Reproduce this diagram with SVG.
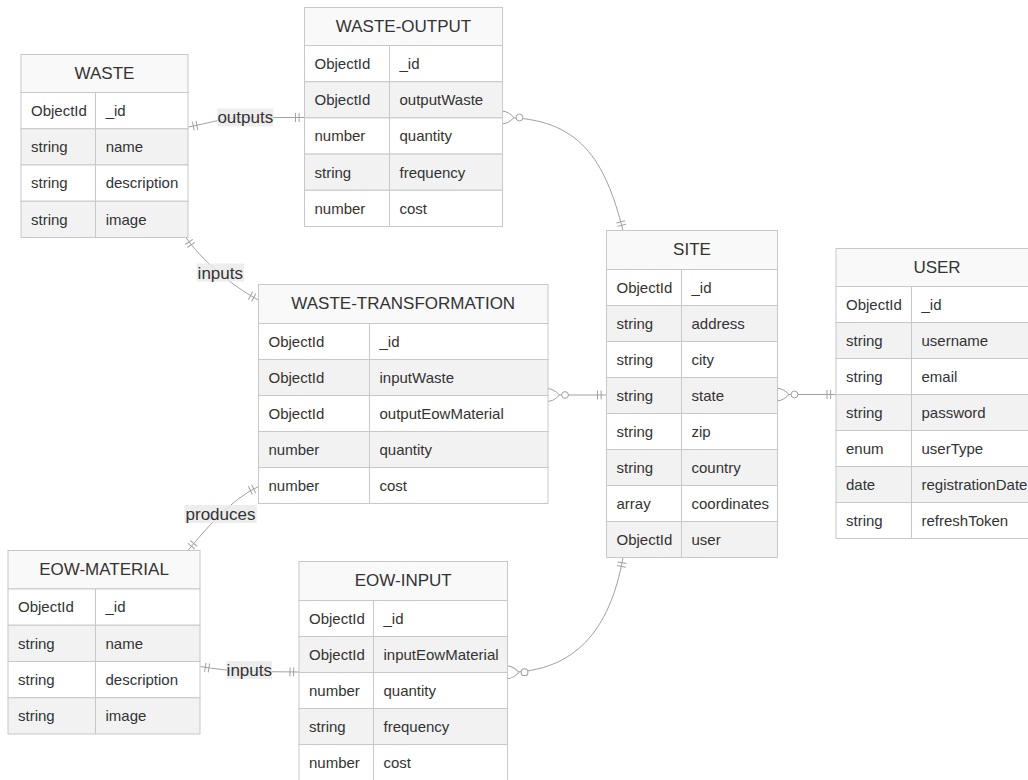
<svg xmlns="http://www.w3.org/2000/svg" width="1028" height="780" viewBox="0 0 1028 780">
<style>
.hdr{fill:#f9f9f9;stroke:#c8c8c8;stroke-width:1}
.odd{fill:#ffffff;stroke:#c8c8c8;stroke-width:1}
.even{fill:#f2f2f2;stroke:#c8c8c8;stroke-width:1}
.div{stroke:#c8c8c8;stroke-width:1}
text{font-family:"Liberation Sans",Arial,Helvetica,sans-serif;fill:#333}
.t{font-size:15px}
.h{font-size:17px;text-anchor:middle}
.lt{font-size:17px;text-anchor:middle}
.edge{fill:none;stroke:#a0a0a0;stroke-width:1}
.lb{fill:#e8e8e8;fill-opacity:0.8}
.mk{stroke:#a0a0a0;stroke-width:1}
</style>
<defs>
<marker id="one" markerUnits="userSpaceOnUse" orient="auto-start-reverse" viewBox="-14 -8 16 16" refX="0" refY="0" markerWidth="16" markerHeight="16" overflow="visible">
<path class="mk" fill="none" d="M-5.4,-4.5V4.5M-9,-4.5V4.5"/>
</marker>
<marker id="zmany" markerUnits="userSpaceOnUse" orient="auto-start-reverse" viewBox="-24 -8 26 16" refX="0" refY="0" markerWidth="26" markerHeight="16" overflow="visible">
<path class="mk" fill="#ffffff" d="M0,-6.3Q-5.5,-6.3 -11.5,0Q-5.5,6.3 0,6.3"/>
<circle class="mk" fill="#ffffff" cx="-17" cy="0" r="3.4"/>
</marker>
</defs>
<rect x="0" y="0" width="1028" height="780" fill="#ffffff"/>

<g id="connectors">
<path class="edge" marker-start="url(#one)" marker-end="url(#one)" d="M188,127 C210,123 225,117.5 245,117.5 L304.5,117.5"/>
<path class="edge" marker-start="url(#zmany)" marker-end="url(#one)" d="M502.5,117.5 C580,117.5 605,160 623,230.5"/>
<path class="edge" marker-start="url(#one)" marker-end="url(#one)" d="M186,237.5 C200,258 230,285 258.5,300"/>
<path class="edge" marker-start="url(#one)" marker-end="url(#one)" d="M188,550.5 C205,530 230,500 258.5,486.5"/>
<path class="edge" marker-start="url(#one)" marker-end="url(#one)" d="M200,666.5 C215,669 232,671 249,671.5 L299,672"/>
<path class="edge" marker-start="url(#zmany)" marker-end="url(#one)" d="M507.5,672.3 C575,672 610,630 623,557.5"/>
<path class="edge" marker-start="url(#zmany)" marker-end="url(#one)" d="M548,395 L606.5,395"/>
<path class="edge" marker-start="url(#zmany)" marker-end="url(#one)" d="M777.5,394.5 L836,394.5"/>
<rect class="lb" x="217.3" y="108.5" width="56" height="18"/>
<text class="lt" x="245.3" y="123.3">outputs</text>
<rect class="lb" x="196.5" y="263.5" width="47.5" height="18"/>
<text class="lt" x="220.3" y="278.5">inputs</text>
<rect class="lb" x="184.3" y="505" width="72.4" height="18"/>
<text class="lt" x="220.5" y="520">produces</text>
<rect class="lb" x="226.5" y="661" width="45.5" height="18"/>
<text class="lt" x="249.3" y="676">inputs</text>
</g>

<g id="WASTE">
<rect class="hdr" x="21" y="54.5" width="167" height="38"/>
<rect class="odd" x="21" y="92.5" width="167" height="36.25"/>
<rect class="even" x="21" y="128.75" width="167" height="36.25"/>
<rect class="odd" x="21" y="165" width="167" height="36.25"/>
<rect class="even" x="21" y="201.25" width="167" height="36.25"/>
<line class="div" x1="95.5" y1="92.5" x2="95.5" y2="237.5"/>
<text class="h" x="104.5" y="78.5">WASTE</text>
<text class="t" x="31" y="115.9">ObjectId</text><text class="t" x="105.7" y="115.9">_id</text>
<text class="t" x="31" y="152.2">string</text><text class="t" x="105.7" y="152.2">name</text>
<text class="t" x="31" y="188.4">string</text><text class="t" x="105.7" y="188.4">description</text>
<text class="t" x="31" y="224.7">string</text><text class="t" x="105.7" y="224.7">image</text>
</g>

<g id="WASTE-OUTPUT">
<rect class="hdr" x="304.5" y="7.5" width="198" height="38"/>
<rect class="odd" x="304.5" y="45.5" width="198" height="36.2"/>
<rect class="even" x="304.5" y="81.7" width="198" height="36.2"/>
<rect class="odd" x="304.5" y="117.9" width="198" height="36.2"/>
<rect class="even" x="304.5" y="154.1" width="198" height="36.2"/>
<rect class="odd" x="304.5" y="190.3" width="198" height="36.2"/>
<line class="div" x1="389.5" y1="45.5" x2="389.5" y2="226.5"/>
<text class="h" x="403.5" y="31.5">WASTE-OUTPUT</text>
<text class="t" x="314.5" y="68.9">ObjectId</text><text class="t" x="399.5" y="68.9">_id</text>
<text class="t" x="314.5" y="105.1">ObjectId</text><text class="t" x="399.5" y="105.1">outputWaste</text>
<text class="t" x="314.5" y="141.3">number</text><text class="t" x="399.5" y="141.3">quantity</text>
<text class="t" x="314.5" y="177.5">string</text><text class="t" x="399.5" y="177.5">frequency</text>
<text class="t" x="314.5" y="213.7">number</text><text class="t" x="399.5" y="213.7">cost</text>
</g>

<g id="WASTE-TRANSFORMATION">
<rect class="hdr" x="258.5" y="284.5" width="289.5" height="39"/>
<rect class="odd" x="258.5" y="323.5" width="289.5" height="36"/>
<rect class="even" x="258.5" y="359.5" width="289.5" height="36"/>
<rect class="odd" x="258.5" y="395.5" width="289.5" height="36"/>
<rect class="even" x="258.5" y="431.5" width="289.5" height="36"/>
<rect class="odd" x="258.5" y="467.5" width="289.5" height="36"/>
<line class="div" x1="369.5" y1="323.5" x2="369.5" y2="503.5"/>
<text class="h" x="403.25" y="309">WASTE-TRANSFORMATION</text>
<text class="t" x="268.5" y="346.8">ObjectId</text><text class="t" x="379.5" y="346.8">_id</text>
<text class="t" x="268.5" y="382.8">ObjectId</text><text class="t" x="379.5" y="382.8">inputWaste</text>
<text class="t" x="268.5" y="418.8">ObjectId</text><text class="t" x="379.5" y="418.8">outputEowMaterial</text>
<text class="t" x="268.5" y="454.8">number</text><text class="t" x="379.5" y="454.8">quantity</text>
<text class="t" x="268.5" y="490.8">number</text><text class="t" x="379.5" y="490.8">cost</text>
</g>

<g id="SITE">
<rect class="hdr" x="606.5" y="230.5" width="171" height="39"/>
<rect class="odd" x="606.5" y="269.5" width="171" height="36"/>
<rect class="even" x="606.5" y="305.5" width="171" height="36"/>
<rect class="odd" x="606.5" y="341.5" width="171" height="36"/>
<rect class="even" x="606.5" y="377.5" width="171" height="36"/>
<rect class="odd" x="606.5" y="413.5" width="171" height="36"/>
<rect class="even" x="606.5" y="449.5" width="171" height="36"/>
<rect class="odd" x="606.5" y="485.5" width="171" height="36"/>
<rect class="even" x="606.5" y="521.5" width="171" height="36"/>
<line class="div" x1="681.5" y1="269.5" x2="681.5" y2="557.5"/>
<text class="h" x="692" y="255">SITE</text>
<text class="t" x="616.5" y="292.8">ObjectId</text><text class="t" x="691.5" y="292.8">_id</text>
<text class="t" x="616.5" y="328.8">string</text><text class="t" x="691.5" y="328.8">address</text>
<text class="t" x="616.5" y="364.8">string</text><text class="t" x="691.5" y="364.8">city</text>
<text class="t" x="616.5" y="400.8">string</text><text class="t" x="691.5" y="400.8">state</text>
<text class="t" x="616.5" y="436.8">string</text><text class="t" x="691.5" y="436.8">zip</text>
<text class="t" x="616.5" y="472.8">string</text><text class="t" x="691.5" y="472.8">country</text>
<text class="t" x="616.5" y="508.8">array</text><text class="t" x="691.5" y="508.8">coordinates</text>
<text class="t" x="616.5" y="544.8">ObjectId</text><text class="t" x="691.5" y="544.8">user</text>
</g>

<g id="USER">
<rect class="hdr" x="836" y="248.5" width="202" height="38"/>
<rect class="odd" x="836" y="286.5" width="202" height="36"/>
<rect class="even" x="836" y="322.5" width="202" height="36"/>
<rect class="odd" x="836" y="358.5" width="202" height="36"/>
<rect class="even" x="836" y="394.5" width="202" height="36"/>
<rect class="odd" x="836" y="430.5" width="202" height="36"/>
<rect class="even" x="836" y="466.5" width="202" height="36"/>
<rect class="odd" x="836" y="502.5" width="202" height="36"/>
<line class="div" x1="911.5" y1="286.5" x2="911.5" y2="538.5"/>
<text class="h" x="937" y="272.5">USER</text>
<text class="t" x="846" y="309.8">ObjectId</text><text class="t" x="921.5" y="309.8">_id</text>
<text class="t" x="846" y="345.8">string</text><text class="t" x="921.5" y="345.8">username</text>
<text class="t" x="846" y="381.8">string</text><text class="t" x="921.5" y="381.8">email</text>
<text class="t" x="846" y="417.8">string</text><text class="t" x="921.5" y="417.8">password</text>
<text class="t" x="846" y="453.8">enum</text><text class="t" x="921.5" y="453.8">userType</text>
<text class="t" x="846" y="489.8">date</text><text class="t" x="921.5" y="489.8">registrationDate</text>
<text class="t" x="846" y="525.8">string</text><text class="t" x="921.5" y="525.8">refreshToken</text>
</g>

<g id="EOW-MATERIAL">
<rect class="hdr" x="8" y="550.5" width="192" height="38.5"/>
<rect class="odd" x="8" y="589" width="192" height="36.25"/>
<rect class="even" x="8" y="625.25" width="192" height="36.25"/>
<rect class="odd" x="8" y="661.5" width="192" height="36.25"/>
<rect class="even" x="8" y="697.75" width="192" height="36.25"/>
<line class="div" x1="95.5" y1="589" x2="95.5" y2="734"/>
<text class="h" x="104" y="574.75">EOW-MATERIAL</text>
<text class="t" x="18" y="612.4">ObjectId</text><text class="t" x="105.5" y="612.4">_id</text>
<text class="t" x="18" y="648.65">string</text><text class="t" x="105.5" y="648.65">name</text>
<text class="t" x="18" y="684.9">string</text><text class="t" x="105.5" y="684.9">description</text>
<text class="t" x="18" y="721.15">string</text><text class="t" x="105.5" y="721.15">image</text>
</g>

<g id="EOW-INPUT">
<rect class="hdr" x="299" y="561.5" width="208.5" height="39"/>
<rect class="odd" x="299" y="600.5" width="208.5" height="36"/>
<rect class="even" x="299" y="636.5" width="208.5" height="36"/>
<rect class="odd" x="299" y="672.5" width="208.5" height="36"/>
<rect class="even" x="299" y="708.5" width="208.5" height="36"/>
<rect class="odd" x="299" y="744.5" width="208.5" height="36"/>
<line class="div" x1="373.5" y1="600.5" x2="373.5" y2="780.5"/>
<text class="h" x="403.25" y="586">EOW-INPUT</text>
<text class="t" x="309" y="623.8">ObjectId</text><text class="t" x="383.5" y="623.8">_id</text>
<text class="t" x="309" y="659.8">ObjectId</text><text class="t" x="383.5" y="659.8">inputEowMaterial</text>
<text class="t" x="309" y="695.8">number</text><text class="t" x="383.5" y="695.8">quantity</text>
<text class="t" x="309" y="731.8">string</text><text class="t" x="383.5" y="731.8">frequency</text>
<text class="t" x="309" y="767.8">number</text><text class="t" x="383.5" y="767.8">cost</text>
</g>
</svg>
